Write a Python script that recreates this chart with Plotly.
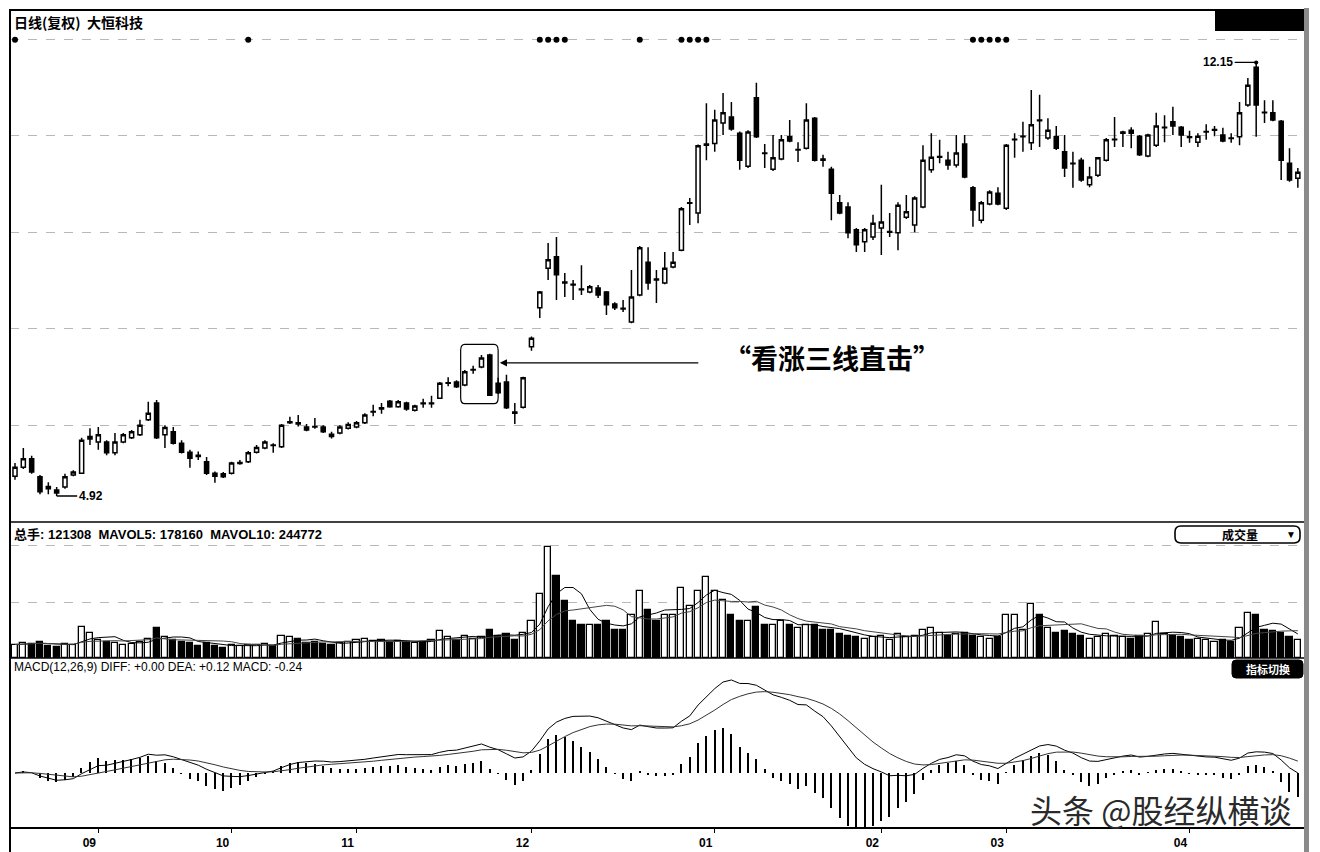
import pandas as pd
import plotly.graph_objects as go

# ---------------- data ----------------
opens = [5.25,5.40,5.54,5.24,5.08,5.02,5.07,5.27,5.30,5.87,
         5.82,5.82,5.64,5.82,5.89,5.94,6.19,6.47,5.94,5.99,
         5.80,5.65,5.60,5.49,5.30,5.29,5.30,5.46,5.49,5.65,
         5.72,5.77,5.74,6.14,6.14,6.07,6.08,6.07,5.95,5.97,
         6.05,6.07,6.14,6.32,6.37,6.50,6.41,6.47,6.35,6.47,
         6.46,6.55,6.80,6.82,6.77,7.02,7.07,7.27,6.80,6.82,
         6.32,6.40,7.41,8.06,8.72,8.91,8.49,8.45,8.37,8.32,
         8.39,8.32,8.12,8.05,7.82,8.27,8.82,8.54,8.47,8.74,
         9.02,9.80,9.64,10.77,10.80,11.14,11.24,10.97,10.42,11.56,
         10.64,10.37,10.54,10.91,10.69,10.72,11.22,10.54,10.37,9.81,
         9.74,9.36,9.16,9.24,9.39,9.32,9.31,9.57,9.44,9.74,
         10.36,10.57,10.52,10.44,10.79,10.06,9.52,9.79,9.97,9.72,
         10.86,10.91,10.81,11.19,10.89,10.91,10.66,10.47,10.52,10.11,
         10.27,10.52,10.86,10.97,11.02,10.92,10.59,10.77,11.06,11.16,
         11.07,10.91,10.82,10.99,11.02,10.94,10.89,10.91,11.44,12.07,
         11.32,11.31,11.17,10.47,10.22]
highs = [5.47,5.72,5.59,5.27,5.15,5.07,5.29,5.35,5.89,6.05,
         6.07,5.85,5.97,5.97,6.02,6.19,6.49,6.52,6.10,6.07,
         5.85,5.69,5.66,5.57,5.33,5.32,5.49,5.52,5.67,5.77,
         5.85,5.80,6.12,6.24,6.27,6.12,6.22,6.10,5.99,6.10,
         6.15,6.17,6.30,6.44,6.47,6.52,6.52,6.49,6.44,6.54,
         6.59,6.82,6.90,6.85,7.02,7.09,7.27,7.29,6.89,6.94,
         6.47,6.91,7.58,8.34,9.14,9.24,8.64,8.52,8.77,8.44,
         8.44,8.34,8.15,8.19,8.69,9.09,9.07,8.69,8.99,8.99,
         9.74,9.89,10.78,11.47,11.36,11.64,11.49,11.00,11.02,11.81,
         10.79,10.94,10.94,11.19,10.82,11.47,11.24,10.61,10.41,9.94,
         9.82,9.39,9.39,9.61,10.11,9.64,9.82,9.94,9.92,10.77,
         10.97,10.86,10.66,10.94,10.94,10.09,9.84,10.02,10.07,10.79,
         10.97,11.16,11.69,11.61,11.22,11.09,10.94,10.66,10.56,10.41,
         10.57,10.89,11.24,11.01,11.07,10.94,10.96,11.31,11.27,11.41,
         11.09,11.01,10.97,11.12,11.09,11.06,10.97,11.49,11.89,12.15,
         11.52,11.52,11.19,10.72,10.39]
lows = [5.19,5.37,5.29,4.95,4.95,4.92,5.04,5.25,5.29,5.77,
        5.69,5.60,5.60,5.80,5.87,5.92,6.17,5.87,5.72,5.78,
        5.63,5.39,5.52,5.27,5.14,5.22,5.28,5.44,5.47,5.63,
        5.70,5.64,5.72,6.12,6.08,6.00,6.04,5.97,5.88,5.95,
        6.03,6.05,6.12,6.25,6.29,6.39,6.39,6.34,6.33,6.39,
        6.39,6.54,6.75,6.72,6.75,6.96,7.05,6.59,6.62,6.37,
        6.12,6.38,7.34,7.89,8.52,8.19,8.24,8.19,8.27,8.30,
        8.22,7.94,8.02,7.99,7.80,8.25,8.36,8.14,8.45,8.72,
        9.00,9.44,9.47,10.52,10.66,10.94,11.01,10.36,10.39,10.89,
        10.39,10.34,10.52,10.82,10.49,10.70,10.50,10.41,9.52,9.62,
        9.22,8.99,8.99,9.19,8.94,9.24,9.02,9.54,9.32,9.72,
        10.31,10.47,10.36,10.40,10.22,9.41,9.47,9.77,9.77,9.69,
        10.56,10.66,10.69,10.74,10.86,10.69,10.24,10.06,10.16,10.07,
        10.24,10.50,10.74,10.74,10.72,10.59,10.57,10.74,10.82,10.94,
        10.74,10.81,10.74,10.86,10.92,10.82,10.81,10.77,11.41,10.91,
        11.14,11.17,10.19,10.16,10.06]
closes = [5.40,5.54,5.32,4.99,5.04,4.97,5.24,5.32,5.85,5.91,
          5.94,5.64,5.82,5.94,5.99,6.10,6.30,5.89,6.06,5.80,
          5.65,5.55,5.58,5.30,5.25,5.24,5.47,5.48,5.64,5.73,
          5.82,5.76,6.10,6.16,6.12,6.02,6.07,5.99,5.91,6.07,
          6.11,6.14,6.27,6.33,6.39,6.41,6.49,6.37,6.42,6.46,
          6.47,6.80,6.81,6.74,6.99,7.03,7.22,6.60,6.64,6.39,
          6.30,6.89,7.55,8.32,8.86,8.61,8.47,8.44,8.36,8.41,
          8.27,8.11,8.06,8.04,8.24,9.06,8.47,8.52,8.72,8.82,
          9.71,9.81,10.76,10.79,11.19,11.31,11.04,10.52,10.99,10.91,
          10.63,10.56,10.86,10.84,10.70,11.19,10.52,10.52,9.97,9.64,
          9.31,9.11,9.36,9.47,9.49,9.33,9.77,9.66,9.89,10.52,
          10.57,10.58,10.44,10.64,10.24,9.69,9.81,9.99,9.79,10.77,
          10.87,10.92,11.11,11.18,11.02,10.72,10.39,10.46,10.19,10.24,
          10.56,10.86,10.87,10.99,10.97,10.61,10.94,11.09,11.07,11.09,
          10.94,10.90,10.92,11.00,11.03,10.84,10.88,11.31,11.77,11.44,
          11.31,11.19,10.52,10.19,10.32]
volumes = [90000,100000,95000,110000,80000,75000,95000,85000,210000,170000,
           120000,110000,100000,90000,95000,110000,130000,200000,140000,120000,
           110000,100000,80000,100000,80000,70000,85000,80000,90000,85000,
           95000,80000,150000,140000,130000,100000,110000,95000,85000,100000,
           110000,120000,130000,115000,120000,110000,115000,105000,100000,110000,
           120000,180000,140000,120000,150000,130000,140000,190000,150000,160000,
           120000,170000,250000,430000,740000,550000,380000,250000,220000,220000,
           220000,250000,190000,190000,290000,450000,320000,250000,290000,290000,
           470000,350000,450000,540000,450000,390000,290000,250000,250000,340000,
           220000,220000,250000,220000,200000,220000,220000,190000,190000,160000,
           150000,140000,130000,140000,150000,120000,160000,140000,150000,190000,
           200000,170000,150000,160000,170000,150000,140000,130000,140000,290000,
           290000,190000,360000,290000,200000,170000,180000,160000,150000,130000,
           140000,160000,150000,140000,130000,150000,160000,240000,160000,150000,
           140000,120000,130000,120000,110000,120000,110000,200000,300000,290000,
           190000,180000,170000,140000,121308]
signal_days = [0, 28, 63, 64, 65, 66, 75, 80, 81, 82, 83, 115, 116, 117, 118, 119]
month_labels = ["09", "10", "11", "12", "01", "02", "03", "04"]
month_start = [10, 26, 41, 62, 84, 104, 119, 141]
low_day, low_price = 5, 4.92
high_day, high_price = 149, 12.15
pattern_days = (53.5, 58.0)
pattern_prices = (6.46, 7.45)

# ---------------- derived indicators ----------------
idx = list(range(len(closes)))
c = pd.Series(closes)
diff = c.ewm(span=12, adjust=False).mean() - c.ewm(span=26, adjust=False).mean()
dea = diff.ewm(span=9, adjust=False).mean()
macd = 2 * (diff - dea)
v = pd.Series(volumes)
mavol5 = v.rolling(5, min_periods=1).mean()
mavol10 = v.rolling(10, min_periods=1).mean()
up = [cl >= op for op, cl in zip(opens, closes)]

# ---------------- layout helpers ----------------
# page offset of 8px (browser body margin) is compensated in the figure size/margins
OFF = 8
L, R, T, B = 10, 1305, 10, 828          # plot area in page pixels
FIG_W, FIG_H = 1320 - OFF, 852 - OFF
def px(x):
    return (x - L) / (R - L)
def py(y):
    return (B - y) / (B - T)

def rrect(x0, y0, x1, y1, rx, ry):
    return (f"M{x0+rx},{y0} L{x1-rx},{y0} Q{x1},{y0} {x1},{y0+ry} L{x1},{y1-ry} "
            f"Q{x1},{y1} {x1-rx},{y1} L{x0+rx},{y1} Q{x0},{y1} {x0},{y1-ry} "
            f"L{x0},{y0+ry} Q{x0},{y0} {x0+rx},{y0} Z")

FONT = "Arial, 'Noto Sans CJK SC', sans-serif"
CJK = "'Noto Sans CJK SC', sans-serif"

fig = go.Figure()

fig.add_trace(go.Candlestick(
    x=idx, open=opens, high=highs, low=lows, close=closes,
    xaxis="x", yaxis="y", whiskerwidth=0,
    increasing=dict(line=dict(color="black", width=1.5), fillcolor="white"),
    decreasing=dict(line=dict(color="black", width=1.5), fillcolor="black"),
    showlegend=False))

fig.add_trace(go.Scatter(
    x=signal_days, y=[12.53] * len(signal_days), mode="markers",
    marker=dict(color="black", size=6), xaxis="x", yaxis="y", showlegend=False))

fig.add_trace(go.Bar(
    x=idx, y=volumes, xaxis="x", yaxis="y2", width=0.74,
    marker=dict(color=["white" if u else "black" for u in up],
                line=dict(color="black", width=1.3)),
    showlegend=False))
fig.add_trace(go.Scatter(x=idx, y=mavol5, mode="lines", line=dict(color="black", width=1),
                         xaxis="x", yaxis="y2", showlegend=False))
fig.add_trace(go.Scatter(x=idx, y=mavol10, mode="lines", line=dict(color="#444", width=1),
                         xaxis="x", yaxis="y2", showlegend=False))

fig.add_trace(go.Bar(x=idx, y=macd, xaxis="x", yaxis="y3", width=0.16,
                     marker=dict(color="black", line=dict(width=0)), showlegend=False))
fig.add_trace(go.Scatter(x=idx, y=diff, mode="lines", line=dict(color="black", width=1),
                         xaxis="x", yaxis="y3", showlegend=False))
fig.add_trace(go.Scatter(x=idx, y=dea, mode="lines", line=dict(color="#333", width=1),
                         xaxis="x", yaxis="y3", showlegend=False))

macd_top = float(diff.max()) / 0.809
macd_bot = -macd_top * 55 / 115

p_dom = [py(522), 1]
v_dom = [py(658), py(522)]
m_dom = [0, py(658)]

grid = dict(showgrid=True, gridcolor="#b8b8b8", griddash="dash", gridwidth=1,
            showticklabels=False, ticks="", zeroline=False, showline=False, fixedrange=True)

fig.update_layout(
    width=FIG_W, height=FIG_H,
    margin=dict(l=L - OFF, r=FIG_W - (R - OFF), t=T - OFF, b=FIG_H - (B - OFF)),
    paper_bgcolor="white", plot_bgcolor="white",
    font=dict(family=FONT, color="black"),
    bargap=0,
    xaxis=dict(domain=[0, 1], anchor="y3", range=[-0.6, 154.86],
               rangeslider=dict(visible=False), showgrid=False, zeroline=False,
               tickvals=month_start, ticktext=[f"<b>{m}</b>" for m in month_labels],
               ticks="outside", ticklen=4, tickcolor="black", tickwidth=1,
               ticklabelshift=-9, tickfont=dict(size=12, family=FONT, color="black"),
               showline=False),
    yaxis=dict(domain=p_dom, anchor="x", range=[4.486, 13.025],
               tickvals=[6.10, 7.72, 9.32, 10.94, 12.53], **grid),
    yaxis2=dict(domain=v_dom, anchor="x", range=[0, 906700],
                tickvals=[367000, 753000], **grid),
    yaxis3=dict(domain=m_dom, anchor="x", range=[macd_bot, macd_top],
                showgrid=False, showticklabels=False, ticks="", zeroline=False,
                showline=False),
)

shapes = [
    dict(type="rect", xref="paper", yref="paper", x0=0, y0=0, x1=1, y1=1,
         line=dict(color="black", width=2)),
    dict(type="line", xref="paper", yref="paper", x0=0, x1=1, y0=py(522), y1=py(522),
         line=dict(color="black", width=1.6)),
    dict(type="line", xref="paper", yref="paper", x0=0, x1=1, y0=py(658), y1=py(658),
         line=dict(color="black", width=1.6)),
    dict(type="line", xref="paper", yref="paper", x0=0, x1=0, y0=py(852), y1=0,
         line=dict(color="black", width=2)),
    dict(type="rect", xref="paper", yref="paper", x0=px(1304), x1=px(1309),
         y0=py(852), y1=py(8), fillcolor="#8a8a8a", line=dict(width=0)),
    dict(type="rect", xref="paper", yref="paper", x0=px(1215), x1=px(1304),
         y0=py(31), y1=1, fillcolor="black", line=dict(width=0)),
    dict(type="path", xref="paper", yref="paper",
         path=rrect(px(1175), py(543), px(1300), py(526), 6 / 1295, 6 / 818),
         line=dict(color="black", width=1.6), fillcolor="white"),
    dict(type="path", xref="paper", yref="paper",
         path=rrect(px(1232), py(678), px(1303), py(660), 4 / 1295, 4 / 818),
         line=dict(color="black", width=1), fillcolor="black"),
    dict(type="path", xref="x", yref="y",
         path=rrect(pattern_days[0], pattern_prices[0], pattern_days[1], pattern_prices[1], 0.5, 0.1),
         line=dict(color="black", width=1.2)),
]
fig.update_layout(shapes=shapes)

ann = [
    dict(xref="paper", yref="paper", x=px(12), y=py(22), xanchor="left", yanchor="middle",
         text="<b>日线(复权)  大恒科技</b>", showarrow=False,
         font=dict(size=14, family=CJK, color="black")),
    dict(xref="paper", yref="paper", x=px(12), y=py(534), xanchor="left", yanchor="middle",
         text="<b>总手: 121308  MAVOL5: 178160  MAVOL10: 244772</b>", showarrow=False,
         font=dict(size=13, family=FONT, color="black")),
    dict(xref="paper", yref="paper", x=px(1240), y=py(534.5), xanchor="center", yanchor="middle",
         text="<b>成交量</b>", showarrow=False, font=dict(size=12, family=CJK, color="black")),
    dict(xref="paper", yref="paper", x=px(1291), y=py(534.5), xanchor="center", yanchor="middle",
         text="▼", showarrow=False, font=dict(size=10, family=FONT, color="black")),
    dict(xref="paper", yref="paper", x=px(12), y=py(667), xanchor="left", yanchor="middle",
         text="MACD(12,26,9) DIFF: +0.00 DEA: +0.12 MACD: -0.24", showarrow=False,
         font=dict(size=12, family=FONT, color="black")),
    dict(xref="paper", yref="paper", x=px(1268), y=py(669), xanchor="center", yanchor="middle",
         text="<b>指标切换</b>", showarrow=False, font=dict(size=11, family=CJK, color="white")),
    dict(x=high_day, y=high_price, xref="x", yref="y", text="<b>12.15</b>", showarrow=True,
         arrowhead=6, arrowsize=0.8, arrowwidth=1.3, arrowcolor="black", ax=-38, ay=0,
         font=dict(size=12, family=FONT, color="black")),
    dict(x=low_day, y=low_price, xref="x", yref="y", text="<b>4.92</b>", showarrow=True,
         arrowhead=0, arrowwidth=1.3, arrowcolor="black", ax=34, ay=0,
         font=dict(size=12, family=FONT, color="black")),
    dict(x=58.2, y=7.14, xref="x", yref="y", text="", showarrow=True, arrowhead=2,
         arrowsize=1.2, arrowwidth=1.2, arrowcolor="black", ax=200, ay=0),
    dict(xref="paper", yref="paper", x=px(832), y=py(357), xanchor="center", yanchor="middle",
         text="<b>“看涨三线直击”</b>", showarrow=False,
         font=dict(size=27, family=CJK, color="black")),
    dict(xref="paper", yref="paper", x=px(1160), y=py(809), xanchor="center", yanchor="middle",
         text="头条 @股经纵横谈", showarrow=False,
         font=dict(size=32, family=CJK, color="#2a2a2a")),
]
fig.update_layout(annotations=ann)

fig.write_html("out.html")
